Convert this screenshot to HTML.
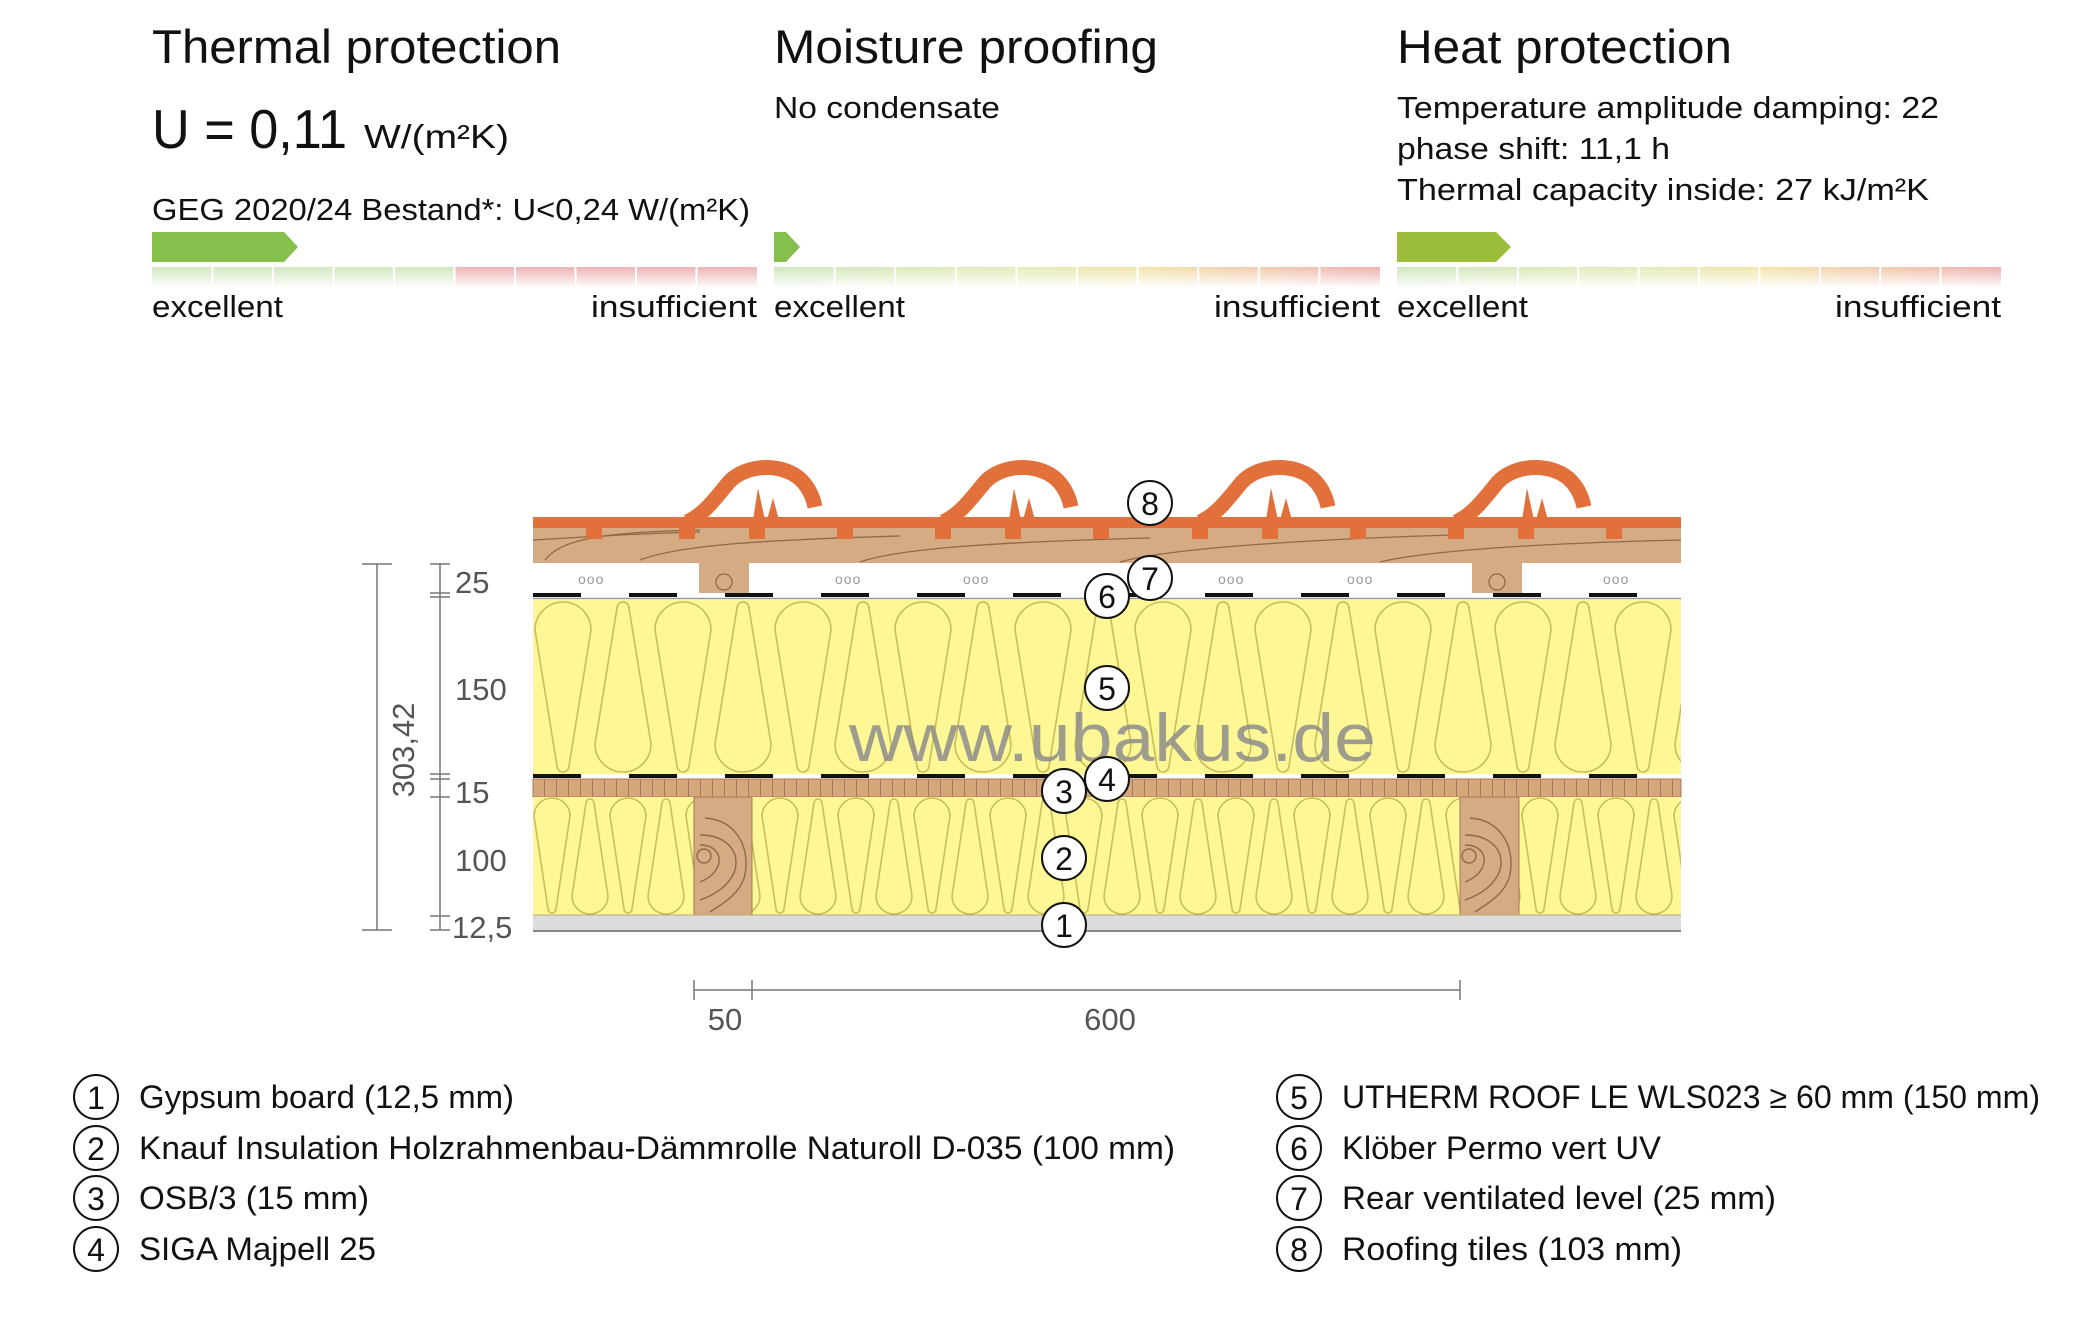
<!DOCTYPE html>
<html><head><meta charset="utf-8"><style>
html,body{margin:0;padding:0;background:#fff;}
svg{display:block;}
text{font-family:"Liberation Sans",sans-serif;}
</style></head><body>
<svg width="2097" height="1323" viewBox="0 0 2097 1323" xmlns="http://www.w3.org/2000/svg">
<defs>
  <linearGradient id="fadeG" x1="0" y1="0" x2="0" y2="1">
    <stop offset="0" stop-color="#fff" stop-opacity="0"/>
    <stop offset="1" stop-color="#fff" stop-opacity="0.95"/>
  </linearGradient>
  <linearGradient id="grm" x1="0" y1="0" x2="1" y2="0">
    <stop offset="0" stop-color="#cfe6bf"/>
    <stop offset="0.4" stop-color="#e3ecbb"/>
    <stop offset="0.6" stop-color="#f3e6ad"/>
    <stop offset="1" stop-color="#eeb0b0"/>
  </linearGradient>
  <pattern id="ins5" patternUnits="userSpaceOnUse" x="533" y="600" width="120" height="174">
    <rect width="120" height="174" fill="#fdf796"/>
    <path d="M2,30 A28,28 0 0 1 58,30 L36,166 A6,6 0 0 1 24,166 Z" fill="none" stroke="#c8bd5a" stroke-width="1.6"/>
    <path d="M62,144 A28,28 0 0 0 118,144 L96,8 A6,6 0 0 0 84,8 Z" fill="none" stroke="#c8bd5a" stroke-width="1.6"/>
  </pattern>
  <pattern id="ins2" patternUnits="userSpaceOnUse" x="533" y="797" width="76" height="118">
    <rect width="76" height="118" fill="#fdf796"/>
    <path d="M1,19 A18,18 0 0 1 37,19 L23,112 A4,4 0 0 1 15,112 Z" fill="none" stroke="#c8bd5a" stroke-width="1.6"/>
    <path d="M39,99 A18,18 0 0 0 75,99 L61,6 A4,4 0 0 0 53,6 Z" fill="none" stroke="#c8bd5a" stroke-width="1.6"/>
  </pattern>
  <pattern id="osb" patternUnits="userSpaceOnUse" x="533" y="779" width="12" height="18">
    <rect width="12" height="18" fill="#d7a77c"/>
    <line x1="11.5" y1="0" x2="11.5" y2="18" stroke="#a9775a" stroke-width="1"/>
  </pattern>
  <g id="hump">
    <path d="M0,522 C18,514 30,496 42,482 C58,465 92,462 112,478 C121,486 126,497 128,507" fill="none" stroke="#e2703a" stroke-width="15"/>
    <path d="M-8,528 L-8,539 L8,539 L8,522 Z" fill="#e2703a"/>
    <path d="M62,517 L62,539 L78,539 L78,517 Z" fill="#e2703a"/>
    <path d="M66,520 L71,488 L78,520 Z M80,520 L86,498 L92,520 Z" fill="#e2703a"/>
  </g>
  <g id="nub"><rect x="0" y="526" width="16" height="13" fill="#e2703a"/></g>
</defs>

<!-- HEADERS -->
<text x="152" y="63" font-size="47" fill="#111" textLength="409" lengthAdjust="spacingAndGlyphs">Thermal protection</text>
<text x="774" y="63" font-size="47" fill="#111" textLength="384" lengthAdjust="spacingAndGlyphs">Moisture proofing</text>
<text x="1397" y="63" font-size="47" fill="#111" textLength="335" lengthAdjust="spacingAndGlyphs">Heat protection</text>

<text x="152" y="148" font-size="55" fill="#111" textLength="195" lengthAdjust="spacingAndGlyphs">U = 0,11</text>
<text x="364" y="148" font-size="33" fill="#111" textLength="145" lengthAdjust="spacingAndGlyphs">W/(m²K)</text>
<text x="152" y="220" font-size="31" fill="#111" textLength="598" lengthAdjust="spacingAndGlyphs">GEG 2020/24 Bestand*: U&lt;0,24 W/(m²K)</text>

<text x="774" y="118" font-size="31" fill="#111" textLength="226" lengthAdjust="spacingAndGlyphs">No condensate</text>

<text x="1397" y="118" font-size="31" fill="#111" textLength="542" lengthAdjust="spacingAndGlyphs">Temperature amplitude damping: 22</text>
<text x="1397" y="159" font-size="31" fill="#111" textLength="273" lengthAdjust="spacingAndGlyphs">phase shift: 11,1 h</text>
<text x="1397" y="200" font-size="31" fill="#111" textLength="532" lengthAdjust="spacingAndGlyphs">Thermal capacity inside: 27 kJ/m²K</text>

<!-- arrows -->
<path d="M152,232 L284,232 L298,247 L284,262 L152,262 Z" fill="#86c04c"/>
<path d="M774,232 L786,232 L800,247 L786,262 L774,262 Z" fill="#86c04c"/>
<path d="M1397,232 L1496,232 L1511,247 L1496,262 L1397,262 Z" fill="#9bbd3a"/>

<!-- bars -->
<rect x="152" y="267" width="302" height="20" fill="#d3e8c2"/>
<rect x="454" y="267" width="303" height="20" fill="#eeb4b4"/>
<rect x="774" y="267" width="606" height="20" fill="url(#grm)"/>
<rect x="1397" y="267" width="604" height="20" fill="url(#grm)"/>
<rect x="152" y="267" width="605" height="20" fill="url(#fadeG)"/>
<rect x="774" y="267" width="606" height="20" fill="url(#fadeG)"/>
<rect x="1397" y="267" width="604" height="20" fill="url(#fadeG)"/>
<g stroke="#fff" stroke-width="2">
  <line x1="212.5" y1="267" x2="212.5" y2="287"/><line x1="273" y1="267" x2="273" y2="287"/><line x1="333.5" y1="267" x2="333.5" y2="287"/><line x1="394" y1="267" x2="394" y2="287"/><line x1="454.5" y1="267" x2="454.5" y2="287"/><line x1="515" y1="267" x2="515" y2="287"/><line x1="575.5" y1="267" x2="575.5" y2="287"/><line x1="636" y1="267" x2="636" y2="287"/><line x1="696.5" y1="267" x2="696.5" y2="287"/>
  <line x1="834.6" y1="267" x2="834.6" y2="287"/><line x1="895.2" y1="267" x2="895.2" y2="287"/><line x1="955.8" y1="267" x2="955.8" y2="287"/><line x1="1016.4" y1="267" x2="1016.4" y2="287"/><line x1="1077" y1="267" x2="1077" y2="287"/><line x1="1137.6" y1="267" x2="1137.6" y2="287"/><line x1="1198.2" y1="267" x2="1198.2" y2="287"/><line x1="1258.8" y1="267" x2="1258.8" y2="287"/><line x1="1319.4" y1="267" x2="1319.4" y2="287"/>
  <line x1="1457.4" y1="267" x2="1457.4" y2="287"/><line x1="1517.8" y1="267" x2="1517.8" y2="287"/><line x1="1578.2" y1="267" x2="1578.2" y2="287"/><line x1="1638.6" y1="267" x2="1638.6" y2="287"/><line x1="1699" y1="267" x2="1699" y2="287"/><line x1="1759.4" y1="267" x2="1759.4" y2="287"/><line x1="1819.8" y1="267" x2="1819.8" y2="287"/><line x1="1880.2" y1="267" x2="1880.2" y2="287"/><line x1="1940.6" y1="267" x2="1940.6" y2="287"/>
</g>
<g font-size="31" fill="#111">
<text x="152" y="317" textLength="131" lengthAdjust="spacingAndGlyphs">excellent</text>
<text x="591" y="317" textLength="166" lengthAdjust="spacingAndGlyphs">insufficient</text>
<text x="774" y="317" textLength="131" lengthAdjust="spacingAndGlyphs">excellent</text>
<text x="1214" y="317" textLength="166" lengthAdjust="spacingAndGlyphs">insufficient</text>
<text x="1397" y="317" textLength="131" lengthAdjust="spacingAndGlyphs">excellent</text>
<text x="1835" y="317" textLength="166" lengthAdjust="spacingAndGlyphs">insufficient</text>
</g>

<!-- DIAGRAM -->
<rect x="533" y="528" width="1148" height="35" fill="#d4ab82"/>
<g fill="none" stroke="#8c6a4a" stroke-width="1.3">
  <path d="M545,560 C560,540 600,532 700,530"/>
  <path d="M640,560 C680,545 760,540 900,536"/>
  <path d="M860,562 C900,548 1000,542 1150,538"/>
  <path d="M1120,562 C1170,548 1300,540 1450,535"/>
  <path d="M1380,562 C1430,550 1550,543 1681,540"/>
  <path d="M533,540 C600,536 650,533 700,532"/>
</g>
<rect x="533" y="517" width="1148" height="11" fill="#e2703a"/>
<g>
  <use href="#hump" x="687"/>
  <use href="#hump" x="943"/>
  <use href="#hump" x="1200"/>
  <use href="#hump" x="1456"/>
  <use href="#nub" x="586"/><use href="#nub" x="837"/><use href="#nub" x="1093"/><use href="#nub" x="1350"/><use href="#nub" x="1606"/>
</g>
<rect x="533" y="563" width="1148" height="30" fill="#fff"/>
<rect x="699" y="563" width="50" height="30" fill="#d4ab82"/>
<rect x="1472" y="563" width="50" height="30" fill="#d4ab82"/>
<circle cx="724" cy="582" r="8" fill="none" stroke="#8c6a4a" stroke-width="1.3"/>
<circle cx="1497" cy="582" r="8" fill="none" stroke="#8c6a4a" stroke-width="1.3"/>
<g font-size="14" fill="#999" letter-spacing="1">
<text x="578" y="584">ooo</text><text x="835" y="584">ooo</text><text x="963" y="584">ooo</text><text x="1218" y="584">ooo</text><text x="1347" y="584">ooo</text><text x="1603" y="584">ooo</text>
</g>
<rect x="533" y="593" width="1148" height="5" fill="#fff"/>
<line x1="533" y1="595" x2="1681" y2="595" stroke="#111" stroke-width="4" stroke-dasharray="48 48"/>
<line x1="533" y1="598.5" x2="1681" y2="598.5" stroke="#999" stroke-width="1.5"/>
<rect x="533" y="600" width="1148" height="174" fill="url(#ins5)"/>
<rect x="533" y="774" width="1148" height="5" fill="#fff"/>
<line x1="533" y1="776" x2="1681" y2="776" stroke="#111" stroke-width="4" stroke-dasharray="48 48"/>
<rect x="533" y="779" width="1148" height="18" fill="url(#osb)"/>
<rect x="533" y="779" width="1148" height="18" fill="none" stroke="#a9775a" stroke-width="1"/>
<rect x="533" y="797" width="1148" height="118" fill="url(#ins2)"/>
<g>
  <rect x="694" y="797" width="58" height="118" fill="#d4ab82" stroke="#a9775a"/>
  <rect x="1460" y="797" width="59" height="118" fill="#d4ab82" stroke="#a9775a"/>
  <g fill="none" stroke="#8c6a4a" stroke-width="1.4">
    <circle cx="704" cy="856" r="7"/><path d="M700,835 C725,835 740,850 735,870 C730,885 715,895 700,900"/><path d="M705,818 C735,820 750,845 745,875 C740,895 720,905 710,912"/><path d="M700,845 C715,845 722,855 718,866 C714,876 705,880 700,882"/>
    <circle cx="1469" cy="856" r="7"/><path d="M1465,835 C1490,835 1505,850 1500,870 C1495,885 1480,895 1465,900"/><path d="M1470,818 C1500,820 1515,845 1510,875 C1505,895 1485,905 1475,912"/><path d="M1465,845 C1480,845 1487,855 1483,866 C1479,876 1470,880 1465,882"/>
  </g>
</g>
<rect x="533" y="915" width="1148" height="16" fill="#dcdcdc"/>
<line x1="533" y1="931" x2="1681" y2="931" stroke="#888" stroke-width="2"/>
<line x1="533" y1="915" x2="1681" y2="915" stroke="#b8ad6a" stroke-width="1"/>

<text x="849" y="761" font-size="68" fill="#8c8c8c" fill-opacity="0.85" textLength="527" lengthAdjust="spacingAndGlyphs">www.ubakus.de</text>

<g font-size="32" fill="#111" text-anchor="middle">
  <g fill="#fff" stroke="#111" stroke-width="2">
    <circle cx="1150" cy="503" r="22"/><circle cx="1150" cy="578" r="22"/><circle cx="1107" cy="596" r="22"/>
    <circle cx="1107" cy="688" r="22"/><circle cx="1107" cy="779" r="22"/><circle cx="1064" cy="791" r="22"/>
    <circle cx="1064" cy="858" r="22"/><circle cx="1064" cy="925" r="22"/>
  </g>
  <text x="1150" y="515">8</text><text x="1150" y="590">7</text><text x="1107" y="608">6</text>
  <text x="1107" y="700">5</text><text x="1107" y="791">4</text><text x="1064" y="803">3</text>
  <text x="1064" y="870">2</text><text x="1064" y="937">1</text>
</g>

<g stroke="#777" stroke-width="1.5" fill="none">
  <line x1="377" y1="564" x2="377" y2="930"/><line x1="362" y1="564" x2="392" y2="564"/><line x1="362" y1="930" x2="392" y2="930"/>
  <line x1="440" y1="564" x2="440" y2="930"/>
  <line x1="430" y1="564" x2="450" y2="564"/><line x1="430" y1="593" x2="450" y2="593"/><line x1="430" y1="597" x2="450" y2="597"/>
  <line x1="430" y1="774" x2="450" y2="774"/><line x1="430" y1="779" x2="450" y2="779"/><line x1="430" y1="797" x2="450" y2="797"/>
  <line x1="430" y1="916" x2="450" y2="916"/><line x1="430" y1="930" x2="450" y2="930"/>
  <line x1="694" y1="990" x2="1460" y2="990"/>
  <line x1="694" y1="980" x2="694" y2="1000"/><line x1="752" y1="980" x2="752" y2="1000"/><line x1="1460" y1="980" x2="1460" y2="1000"/>
</g>
<g font-size="31" fill="#555">
  <text x="455" y="593">25</text><text x="455" y="700">150</text><text x="455" y="803">15</text>
  <text x="455" y="871">100</text><text x="452" y="938">12,5</text>
  <text transform="translate(414,750) rotate(-90)" text-anchor="middle">303,42</text>
  <text x="725" y="1030" text-anchor="middle">50</text><text x="1110" y="1030" text-anchor="middle">600</text>
</g>

<g fill="#fff" stroke="#111" stroke-width="2">
  <circle cx="96" cy="1097" r="22"/><circle cx="96" cy="1148" r="22"/><circle cx="96" cy="1198" r="22"/><circle cx="96" cy="1249" r="22"/>
  <circle cx="1299" cy="1097" r="22"/><circle cx="1299" cy="1148" r="22"/><circle cx="1299" cy="1198" r="22"/><circle cx="1299" cy="1249" r="22"/>
</g>
<g font-size="32" fill="#111" text-anchor="middle">
  <text x="96" y="1109">1</text><text x="96" y="1160">2</text><text x="96" y="1210">3</text><text x="96" y="1261">4</text>
  <text x="1299" y="1109">5</text><text x="1299" y="1160">6</text><text x="1299" y="1210">7</text><text x="1299" y="1261">8</text>
</g>
<g font-size="32" fill="#111">
  <text x="139" y="1108" textLength="375" lengthAdjust="spacingAndGlyphs">Gypsum board (12,5 mm)</text>
  <text x="139" y="1159" textLength="1036" lengthAdjust="spacingAndGlyphs">Knauf Insulation Holzrahmenbau-Dämmrolle Naturoll D-035 (100 mm)</text>
  <text x="139" y="1209" textLength="230" lengthAdjust="spacingAndGlyphs">OSB/3 (15 mm)</text>
  <text x="139" y="1260" textLength="237" lengthAdjust="spacingAndGlyphs">SIGA Majpell 25</text>
  <text x="1342" y="1108" textLength="698" lengthAdjust="spacingAndGlyphs">UTHERM ROOF LE WLS023 ≥ 60 mm (150 mm)</text>
  <text x="1342" y="1159" textLength="319" lengthAdjust="spacingAndGlyphs">Klöber Permo vert UV</text>
  <text x="1342" y="1209" textLength="434" lengthAdjust="spacingAndGlyphs">Rear ventilated level (25 mm)</text>
  <text x="1342" y="1260" textLength="340" lengthAdjust="spacingAndGlyphs">Roofing tiles (103 mm)</text>
</g>
</svg>
</body></html>
